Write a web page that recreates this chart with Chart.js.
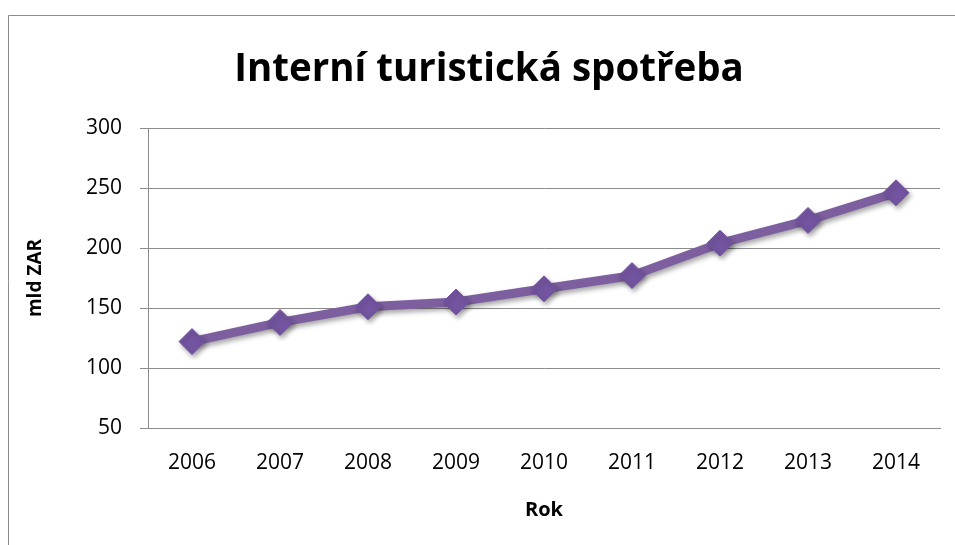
<!DOCTYPE html>
<html>
<head>
<meta charset="utf-8">
<script src="https://cdn.jsdelivr.net/npm/chart.js@4/dist/chart.umd.min.js"></script>
<style>
  html, body { margin: 0; padding: 0; background: #fff; }
  #wrap { position: relative; width: 955px; height: 545px; }
</style>
</head>
<body>
<div id="wrap"><canvas id="graf" width="955" height="545"></canvas></div>
<script>
// ===== dados =====
const roky = ['2006','2007','2008','2009','2010','2011','2012','2013','2014'];
const spotreba = [122, 138, 151, 155, 166, 177, 204, 223, 246];
const osaYMin = 50;
const osaYMax = 300;
const osaYKrok = 50;
const nazevOsyY = 'mld ZAR';

const fonte = "'Open Sans', 'Noto Sans', sans-serif";
const fialova = '#7d5fa0';

// moldura externa do gráfico
const moldura = {
  id: 'moldura',
  beforeDraw(chart) {
    const c = chart.ctx;
    c.save();
    c.strokeStyle = '#8c8c8c';
    c.lineWidth = 1;
    c.beginPath();
    c.moveTo(8.5, 560);
    c.lineTo(8.5, 15.5);
    c.lineTo(960, 15.5);
    c.stroke();
    c.restore();
  }
};

// título do eixo Y (fica fora da caixa do eixo)
const tituloY = {
  id: 'tituloY',
  afterDraw(chart) {
    const c = chart.ctx;
    const a = chart.chartArea;
    c.save();
    c.translate(36, (a.top + a.bottom) / 2);
    c.rotate(-Math.PI / 2);
    c.fillStyle = '#000';
    c.font = `bold 19px ${fonte}`;
    c.textAlign = 'center';
    c.textBaseline = 'middle';
    c.fillText(nazevOsyY, 0, 0);
    c.restore();
  }
};

// sombra dos marcadores
const sombra = {
  id: 'sombra',
  beforeDatasetDraw(chart) {
    const c = chart.ctx;
    c.save();
    c.shadowColor = 'rgba(0,0,0,0.35)';
    c.shadowBlur = 5;
    c.shadowOffsetX = 2;
    c.shadowOffsetY = 3;
  },
  afterDatasetDraw(chart) { chart.ctx.restore(); }
};

new Chart(document.getElementById('graf'), {
  type: 'line',
  data: {
    labels: roky,
    datasets: [{
      data: spotreba,
      borderColor: fialova,
      borderWidth: 9,
      pointStyle: 'rectRot',
      pointRadius: 13,
      pointBackgroundColor: '#7354a0',
      pointBorderColor: '#7354a0',
      pointBorderWidth: 1,
      tension: 0
    }]
  },
  options: {
    responsive: false,
    animation: false,
    layout: { padding: { left: 38, right: 15, top: 0, bottom: 0 } },
    plugins: {
      legend: { display: false },
      tooltip: { enabled: false },
      title: {
        display: true,
        text: 'Interní turistická spotřeba',
        color: '#000',
        font: { family: fonte, size: 38.5, weight: 'bold' },
        padding: { top: 47, bottom: 34.8 }
      }
    },
    scales: {
      x: {
        offset: true,
        grid: { display: false, drawTicks: false },
        border: { display: true, color: '#8c8c8c', width: 1 },
        ticks: { color: '#000', font: { family: fonte, size: 21 }, padding: 22 },
        title: {
          display: true, text: 'Rok', color: '#000',
          font: { family: fonte, size: 20, weight: 'bold' }, padding: { top: 0, bottom: 23 }
        },
        afterFit(s) { s.height = 117; }
      },
      y: {
        min: osaYMin,
        max: osaYMax,
        ticks: { stepSize: osaYKrok, color: '#000', font: { family: fonte, size: 21 }, padding: 18 },
        grid: { color: '#8c8c8c', lineWidth: 1, tickLength: 8 },
        border: { display: true, color: '#8c8c8c', width: 1 },
        title: { display: false },
        afterFit(s) { s.width = 110; }
      }
    }
  },
  plugins: [moldura, tituloY, sombra]
});
</script>
</body>
</html>
